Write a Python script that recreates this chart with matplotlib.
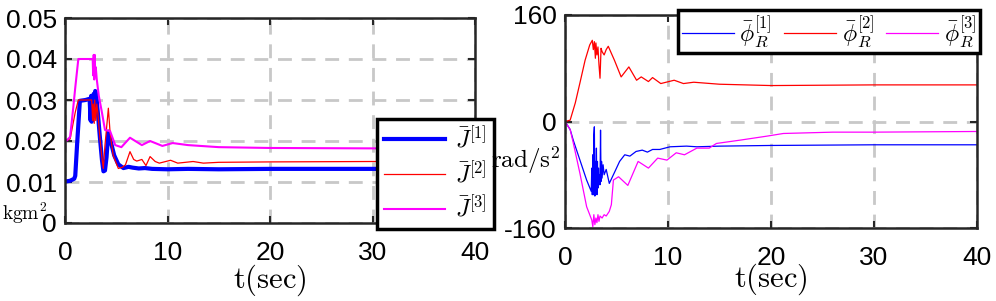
import matplotlib
matplotlib.use("Agg")
import matplotlib.pyplot as plt

plt.rcParams["font.family"] = ["Liberation Sans", "DejaVu Sans"]
plt.rcParams["mathtext.fontset"] = "cm"

# ---- left panel: inertia estimates ----
t_j1 = [0, 0.5, 0.9, 1.0, 1.2, 1.45, 2.0, 2.4, 2.5, 2.55, 2.6, 2.65, 2.7, 2.8, 2.9, 2.95, 3.05,
        3.2, 3.4, 3.6, 3.75, 3.9, 4.05, 4.23, 4.45, 4.8, 5.2, 5.7, 6.2, 6.6, 7.2, 7.8, 8.5,
        10, 12, 15, 20, 30, 40]
j1 = [0.0101, 0.0103, 0.0108, 0.0115, 0.020, 0.0298, 0.030, 0.0303, 0.025, 0.031, 0.0247, 0.031,
      0.026, 0.0315, 0.031, 0.0322, 0.031, 0.027, 0.021, 0.0155, 0.0126, 0.0128, 0.016, 0.0223,
      0.020, 0.0165, 0.0143, 0.0134, 0.0137, 0.0135, 0.0133, 0.0134, 0.0132, 0.0131, 0.0132,
      0.0131, 0.0132, 0.0132, 0.0132]

t_j2 = [0, 0.5, 1.0, 1.3, 2.0, 2.6, 2.7, 2.75, 2.85, 2.9, 3.0, 3.1, 3.2, 3.4, 3.6, 3.74, 3.9,
        4.05, 4.23, 4.4, 4.7, 5.2, 5.6, 5.9, 6.34, 6.7, 7.0, 7.5, 7.9, 8.3, 8.8, 9.2, 10.3, 11,
        12.5, 13.5, 15, 20, 30, 40]
j2 = [0.020, 0.0205, 0.027, 0.030, 0.030, 0.030, 0.025, 0.029, 0.0243, 0.030, 0.025, 0.029, 0.027,
      0.021, 0.016, 0.0133, 0.019, 0.023, 0.028, 0.022, 0.0165, 0.0133, 0.0136, 0.0142, 0.0174,
      0.0155, 0.0151, 0.0155, 0.0140, 0.0162, 0.0150, 0.0146, 0.0153, 0.0146, 0.0150, 0.0146,
      0.0148, 0.0149, 0.0150, 0.0150]

t_j3 = [0, 0.16, 0.5, 0.8, 1.0, 1.3, 2.0, 2.7, 2.75, 2.8, 2.85, 2.9, 2.95, 3.0, 3.1, 3.3, 3.6,
        3.9, 4.4, 4.9, 5.5, 6.34, 7.5, 8.3, 9.5, 10.5, 12, 15, 20, 30, 40]
j3 = [0.020, 0.0201, 0.021, 0.028, 0.033, 0.040, 0.040, 0.040, 0.036, 0.041, 0.035, 0.041, 0.036,
      0.038, 0.035, 0.031, 0.027, 0.0227, 0.0224, 0.0190, 0.0185, 0.0208, 0.0190, 0.0200,
      0.0188, 0.0195, 0.0190, 0.0185, 0.0183, 0.0182, 0.0181]

# ---- right panel: angular acceleration ----
t_p1 = [0, 0.5, 0.8, 1.45, 2.1, 2.55, 2.6, 2.65, 2.7, 2.75, 2.8, 2.85, 2.9, 2.95, 3.0, 3.05,
        3.1, 3.15, 3.2, 3.25, 3.3, 3.35, 3.4, 3.45, 3.5, 3.55, 3.6, 3.7, 3.8, 4.0, 4.3, 4.85,
        5.3, 5.8, 6.3, 6.9, 7.5, 8.0, 8.5, 9.2, 10.2, 11.8, 12.8, 15, 20, 30, 40]
p1 = [0, -12, -28, -58, -88, -105, -70, -110, -50, -110, -20, -8, -112, -60, -100, -40, -110,
      -60, -100, -70, -95, -80, -95, -13, -90, -60, -85, -65, -80, -72, -93, -75, -60, -50,
      -52, -45, -43, -46, -42, -42, -38, -37, -38, -37, -36, -35, -35]

t_p2 = [0, 0.5, 1.0, 1.45, 1.95, 2.4, 2.65, 2.75, 2.85, 2.95, 3.0, 3.1, 3.2, 3.3, 3.4, 3.5,
        3.6, 3.8, 4.0, 4.2, 4.8, 5.45, 6.2, 6.95, 7.4, 8.1, 8.5, 9.3, 10.6, 11.5, 12.5, 15, 20,
        30, 40]
p2 = [0, 2, 28, 58, 92, 115, 122, 108, 120, 95, 118, 100, 112, 85, 65, 110, 105, 100, 108, 113,
      92, 67, 82, 62, 67, 60, 66, 57, 62, 57, 59, 56, 54, 55, 55]

t_p3 = [0, 0.5, 0.8, 1.45, 2.1, 2.6, 2.7, 2.8, 2.9, 3.0, 3.1, 3.2, 3.3, 3.4, 3.6, 3.8, 4.0,
        4.3, 4.5, 4.7, 5.2, 6.1, 7.1, 8.1, 9.0, 9.9, 10.8, 11.6, 12.8, 14, 14.7, 17, 19.6,
        21.2, 26, 30, 40]
p3 = [0, -12, -32, -78, -128, -148, -158, -140, -155, -145, -152, -140, -150, -142, -145, -140,
      -142, -135, -125, -88, -83, -96, -60, -70, -55, -58, -47, -50, -40, -40, -33, -28, -22,
      -18, -16, -16, -15]

fig = plt.figure(figsize=(9.96, 3.01), dpi=100)
W, H = 996, 301
ax1 = fig.add_axes([65 / W, (H - 223) / H, 410 / W, 205 / H])
ax2 = fig.add_axes([565 / W, (H - 228) / H, 412 / W, 213 / H])

ax1.plot(t_j1, j1, color="#0000ff", lw=3.0, label=r"$\bar{J}^{[1]}$")
ax1.plot(t_j2, j2, color="#ff0000", lw=0.9, label=r"$\bar{J}^{[2]}$")
ax1.plot(t_j3, j3, color="#ff00ff", lw=1.5, label=r"$\bar{J}^{[3]}$")
ax1.set_ylim(0, 0.05)
ax1.set_yticks([0, 0.01, 0.02, 0.03, 0.04, 0.05])
ax1.set_yticklabels(["0", "0.01", "0.02", "0.03", "0.04", "0.05"])

ax2.plot(t_p1, p1, color="#0000ff", lw=0.9, label=r"$\bar{\phi}_R^{[1]}$")
ax2.plot(t_p2, p2, color="#ff0000", lw=0.9, label=r"$\bar{\phi}_R^{[2]}$")
ax2.plot(t_p3, p3, color="#ff00ff", lw=0.9, label=r"$\bar{\phi}_R^{[3]}$")
ax2.set_ylim(-160, 160)
ax2.set_yticks([-160, 0, 160])
ax2.set_yticklabels(["-160", "0", "160"])

for ax in (ax1, ax2):
    ax.set_xlim(0, 40)
    ax.set_xticks([0, 10, 20, 30, 40])
    ax.grid(True, color="#c8c8c8", ls=(0, (5, 3.5)), lw=2.0)
    ax.tick_params(direction="in", length=5, width=1.5, labelsize=19, top=True, right=True,
                   color="#262626")
    ax.tick_params(axis="x", pad=13)
    ax.tick_params(axis="y", pad=6)
    for s in ax.spines.values():
        s.set_linewidth(1.8)
        s.set_color("#262626")
ax1.set_xlabel(r"$\mathrm{t(sec)}$", fontsize=22, labelpad=-2)
ax2.set_xlabel(r"$\mathrm{t(sec)}$", fontsize=22, labelpad=-6)

leg1 = ax1.legend(loc="lower left", bbox_to_anchor=(377 / W, (H - 229) / H),
                  bbox_transform=fig.transFigure, fontsize=17, fancybox=False,
                  framealpha=1, edgecolor="black", borderaxespad=0, handlelength=2.6,
                  labelspacing=0.35, borderpad=0.3, handletextpad=0.4)
leg1.get_frame().set_linewidth(2.5)

leg2 = ax2.legend(loc="upper right", bbox_to_anchor=(980 / W, (H - 10) / H),
                  bbox_transform=fig.transFigure, fontsize=17, fancybox=False,
                  framealpha=1, edgecolor="black", borderaxespad=0, ncol=3,
                  handlelength=2.2, columnspacing=0.5, borderpad=0.15, handletextpad=0.25)
leg2.get_frame().set_linewidth(2.5)

fig.text(2 / W, 1 - 213 / H, r"$\mathrm{kgm^2}$", fontsize=14, va="center", ha="left")
fig.text(491 / W, 1 - 160 / H, r"$\mathrm{rad/s^2}$", fontsize=18, va="center", ha="left")

fig.savefig("out.png", dpi=100)
